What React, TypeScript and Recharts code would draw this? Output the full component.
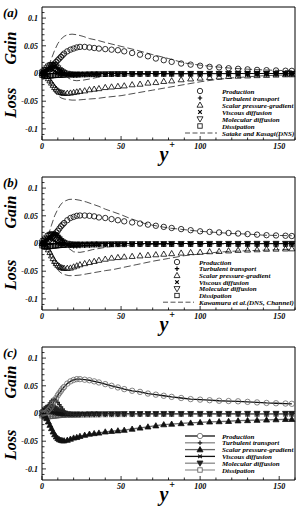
import React from 'react'
import { LineChart, Line, XAxis, YAxis, ReferenceLine, Legend } from 'recharts'

// wall-normal positions of the model's grid points (markers)
const yPlus = [0, 1, 2, 3, 4, 5, 6, 7, 8, 9, 10, 11, 12, 13, 14, 16, 18, 20, 22, 24, 27, 30, 33, 36, 40, 44, 48, 52, 57, 62, 67, 72, 77, 82, 88, 94, 100, 106, 112, 118, 124, 130, 136, 142, 148, 154, 158]

// (a)
const productionA = [0, 0.0002, 0.001, 0.003, 0.005, 0.008, 0.011, 0.014, 0.018, 0.021, 0.024, 0.027, 0.03, 0.033, 0.036, 0.04, 0.043, 0.045, 0.047, 0.048, 0.048, 0.047, 0.046, 0.045, 0.044, 0.043, 0.042, 0.04, 0.037, 0.034, 0.031, 0.027, 0.024, 0.021, 0.018, 0.016, 0.014, 0.012, 0.011, 0.0095, 0.0085, 0.0075, 0.0065, 0.006, 0.0055, 0.005, 0.0048]
const turbulentA = [0, 0.0005, 0.002, 0.004, 0.007, 0.009, 0.011, 0.012, 0.012, 0.011, 0.009, 0.007, 0.005, 0.003, 0.001, -0.002, -0.003, -0.0035, -0.0035, -0.003, -0.003, -0.0025, -0.0022, -0.002, -0.0018, -0.0016, -0.0015, -0.0014, -0.0013, -0.0012, -0.0011, -0.001, -0.001, -0.0009, -0.0008, -0.0008, -0.0007, -0.0007, -0.0006, -0.0006, -0.0005, -0.0005, -0.0005, -0.0004, -0.0004, -0.0004, -0.0004]
const pressureA = [0, -0.0005, -0.002, -0.005, -0.009, -0.013, -0.017, -0.021, -0.025, -0.028, -0.031, -0.033, -0.034, -0.035, -0.0355, -0.0355, -0.035, -0.034, -0.033, -0.032, -0.031, -0.029, -0.028, -0.027, -0.025, -0.024, -0.023, -0.022, -0.02, -0.019, -0.017, -0.016, -0.014, -0.013, -0.011, -0.0095, -0.008, -0.007, -0.006, -0.005, -0.0045, -0.004, -0.0035, -0.003, -0.0025, -0.002, -0.002]
const viscousA = [0, 0.003, 0.006, 0.008, 0.009, 0.009, 0.008, 0.006, 0.004, 0.002, 0.001, 0, -0.001, -0.0015, -0.002, -0.002, -0.002, -0.0018, -0.0016, -0.0014, -0.0012, -0.001, -0.0009, -0.0008, -0.0007, -0.0006, -0.0006, -0.0005, -0.0005, -0.0004, -0.0004, -0.0004, -0.0003, -0.0003, -0.0003, -0.0003, -0.0002, -0.0002, -0.0002, -0.0002, -0.0002, -0.0001, -0.0001, -0.0001, -0.0001, -0.0001, -0.0001]
const molecularA = [0.002, 0.004, 0.007, 0.01, 0.013, 0.015, 0.016, 0.016, 0.015, 0.013, 0.01, 0.007, 0.005, 0.003, 0.0015, 0, -0.001, -0.0015, -0.0015, -0.0014, -0.0012, -0.001, -0.0009, -0.0008, -0.0007, -0.0006, -0.0005, -0.0005, -0.0004, -0.0004, -0.0003, -0.0003, -0.0003, -0.0002, -0.0002, -0.0002, -0.0002, -0.0001, -0.0001, -0.0001, -0.0001, -0.0001, 0, 0, 0, 0, 0]
const dissipationA = [-0.003, -0.004, -0.005, -0.005, -0.005, -0.0045, -0.004, -0.0038, -0.0036, -0.0034, -0.003, -0.0029, -0.0028, -0.0027, -0.0026, -0.0025, -0.0024, -0.0023, -0.0022, -0.0021, -0.002, -0.0019, -0.0018, -0.0017, -0.0016, -0.0015, -0.0014, -0.0013, -0.0012, -0.0011, -0.0011, -0.001, -0.001, -0.0009, -0.0009, -0.0008, -0.0008, -0.0008, -0.0007, -0.0007, -0.0007, -0.0006, -0.0006, -0.0006, -0.0006, -0.0005, -0.0005]
const dnsYPlusA = [0, 2, 4, 6, 8, 10, 12, 14, 16, 19, 22, 26, 30, 35, 40, 50, 60, 70, 80, 90, 100, 110, 120, 130, 140, 150, 158]
const dnsProductionA = [0, 0.002, 0.012, 0.027, 0.042, 0.054, 0.062, 0.067, 0.07, 0.071, 0.07, 0.067, 0.063, 0.06, 0.056, 0.049, 0.042, 0.034, 0.027, 0.019, 0.015, 0.012, 0.0095, 0.0078, 0.0065, 0.0055, 0.005]
const dnsPressureA = [0, -0.002, -0.01, -0.022, -0.033, -0.04, -0.044, -0.046, -0.047, -0.048, -0.048, -0.047, -0.046, -0.045, -0.043, -0.04, -0.035, -0.03, -0.025, -0.02, -0.015, -0.011, -0.008, -0.006, -0.004, -0.003, -0.0025]
const dnsTurbulentA = [0, 0.002, 0.008, 0.013, 0.015, 0.013, 0.006, -0.001, -0.007, -0.012, -0.013, -0.012, -0.01, -0.007, -0.005, -0.003, -0.002, -0.0015, -0.001, -0.0008, -0.0006, -0.0005, -0.0004, -0.0003, -0.0002, -0.0002, -0.0001]

// (b)
const productionB = [0, 0.0002, 0.001, 0.002, 0.004, 0.007, 0.01, 0.013, 0.016, 0.02, 0.023, 0.027, 0.031, 0.034, 0.037, 0.042, 0.046, 0.048, 0.05, 0.0505, 0.0505, 0.05, 0.049, 0.047, 0.046, 0.044, 0.042, 0.04, 0.038, 0.036, 0.034, 0.032, 0.03, 0.028, 0.026, 0.024, 0.022, 0.021, 0.02, 0.019, 0.018, 0.017, 0.016, 0.015, 0.0145, 0.014, 0.0135]
const turbulentB = [0, 0.0005, 0.002, 0.005, 0.008, 0.011, 0.014, 0.016, 0.017, 0.016, 0.014, 0.011, 0.008, 0.005, 0.002, -0.002, -0.004, -0.005, -0.005, -0.0045, -0.004, -0.0035, -0.003, -0.0028, -0.0025, -0.0023, -0.0021, -0.002, -0.0018, -0.0017, -0.0016, -0.0015, -0.0014, -0.0013, -0.0012, -0.0012, -0.0011, -0.0011, -0.001, -0.001, -0.001, -0.0009, -0.0009, -0.0009, -0.0008, -0.0008, -0.0008]
const pressureB = [0, -0.0005, -0.002, -0.006, -0.011, -0.016, -0.022, -0.027, -0.032, -0.036, -0.039, -0.041, -0.043, -0.044, -0.0445, -0.0445, -0.044, -0.042, -0.04, -0.038, -0.036, -0.034, -0.032, -0.03, -0.028, -0.026, -0.025, -0.024, -0.023, -0.022, -0.021, -0.02, -0.019, -0.018, -0.017, -0.016, -0.0155, -0.0145, -0.014, -0.013, -0.012, -0.0115, -0.011, -0.01, -0.0098, -0.0095, -0.0093]
const viscousB = [0, 0.003, 0.006, 0.009, 0.01, 0.01, 0.009, 0.007, 0.005, 0.003, 0.001, 0, -0.001, -0.002, -0.0025, -0.0025, -0.0024, -0.0022, -0.002, -0.0018, -0.0016, -0.0014, -0.0012, -0.0011, -0.001, -0.0009, -0.0008, -0.0008, -0.0007, -0.0007, -0.0006, -0.0006, -0.0005, -0.0005, -0.0005, -0.0004, -0.0004, -0.0004, -0.0004, -0.0003, -0.0003, -0.0003, -0.0003, -0.0003, -0.0002, -0.0002, -0.0002]
const molecularB = [0.002, 0.005, 0.008, 0.011, 0.014, 0.016, 0.017, 0.017, 0.016, 0.014, 0.011, 0.008, 0.005, 0.003, 0.0015, 0, -0.001, -0.0015, -0.0015, -0.0014, -0.0013, -0.0012, -0.001, -0.0009, -0.0008, -0.0007, -0.0006, -0.0006, -0.0005, -0.0005, -0.0004, -0.0004, -0.0004, -0.0003, -0.0003, -0.0003, -0.0003, -0.0002, -0.0002, -0.0002, -0.0002, -0.0002, -0.0001, -0.0001, -0.0001, -0.0001, -0.0001]
const dissipationB = [-0.004, -0.005, -0.006, -0.006, -0.0058, -0.0055, -0.005, -0.0047, -0.0044, -0.0041, -0.0038, -0.0036, -0.0034, -0.0032, -0.003, -0.0029, -0.0028, -0.0027, -0.0026, -0.0025, -0.0024, -0.0023, -0.0022, -0.0021, -0.002, -0.0019, -0.0018, -0.0018, -0.0017, -0.0016, -0.0016, -0.0015, -0.0015, -0.0014, -0.0014, -0.0013, -0.0013, -0.0013, -0.0012, -0.0012, -0.0012, -0.0011, -0.0011, -0.0011, -0.001, -0.001, -0.001]
const dnsYPlusB = [0, 2, 4, 6, 8, 10, 12, 14, 17, 20, 24, 28, 32, 36, 40, 45, 50, 55, 60, 65, 70, 80, 90, 100, 110, 120, 130, 140, 150, 158]
const dnsProductionB = [0, 0.003, 0.015, 0.033, 0.05, 0.062, 0.071, 0.076, 0.0795, 0.08, 0.078, 0.075, 0.071, 0.067, 0.062, 0.057, 0.052, 0.046, 0.041, 0.036, 0.033, 0.028, 0.025, 0.022, 0.02, 0.018, 0.017, 0.015, 0.0145, 0.014]
const dnsPressureB = [0, -0.003, -0.013, -0.028, -0.04, -0.048, -0.053, -0.056, -0.058, -0.058, -0.057, -0.055, -0.053, -0.051, -0.049, -0.047, -0.044, -0.041, -0.038, -0.035, -0.032, -0.027, -0.022, -0.019, -0.016, -0.014, -0.013, -0.012, -0.011, -0.0105]
const dnsTurbulentB = [0, 0.003, 0.011, 0.018, 0.021, 0.019, 0.011, 0.002, -0.009, -0.015, -0.016, -0.014, -0.011, -0.009, -0.007, -0.005, -0.004, -0.003, -0.0025, -0.002, -0.0018, -0.0015, -0.0012, -0.001, -0.0009, -0.0008, -0.0007, -0.0006, -0.0005, -0.0005]

// (c)
const productionC = [0, 0.0003, 0.001, 0.003, 0.006, 0.009, 0.013, 0.018, 0.023, 0.028, 0.033, 0.037, 0.041, 0.045, 0.048, 0.054, 0.058, 0.0605, 0.062, 0.062, 0.061, 0.06, 0.058, 0.056, 0.053, 0.05, 0.047, 0.044, 0.041, 0.039, 0.036, 0.034, 0.032, 0.03, 0.028, 0.026, 0.025, 0.024, 0.023, 0.0225, 0.022, 0.021, 0.02, 0.019, 0.0185, 0.018, 0.0175]
const turbulentC = [0, 0.001, 0.004, 0.009, 0.014, 0.019, 0.023, 0.025, 0.025, 0.023, 0.02, 0.016, 0.012, 0.008, 0.005, 0.001, -0.001, -0.002, -0.0025, -0.003, -0.003, -0.003, -0.0028, -0.0026, -0.0024, -0.0022, -0.002, -0.0019, -0.0018, -0.0017, -0.0016, -0.0015, -0.0014, -0.0013, -0.0012, -0.0012, -0.0011, -0.0011, -0.001, -0.001, -0.001, -0.0009, -0.0009, -0.0009, -0.0008, -0.0008, -0.0008]
const pressureC = [0, -0.001, -0.004, -0.009, -0.015, -0.021, -0.027, -0.033, -0.038, -0.042, -0.045, -0.047, -0.048, -0.049, -0.049, -0.048, -0.046, -0.044, -0.043, -0.041, -0.039, -0.037, -0.036, -0.035, -0.033, -0.032, -0.031, -0.03, -0.028, -0.026, -0.024, -0.022, -0.02, -0.019, -0.018, -0.017, -0.016, -0.015, -0.0145, -0.014, -0.013, -0.0125, -0.012, -0.0115, -0.011, -0.0105, -0.0105]
const viscousC = [0, 0.002, 0.004, 0.005, 0.005, 0.004, 0.003, 0.002, 0.001, 0, -0.0005, -0.001, -0.0015, -0.0018, -0.002, -0.002, -0.002, -0.0018, -0.0016, -0.0015, -0.0013, -0.0012, -0.001, -0.001, -0.0009, -0.0008, -0.0007, -0.0007, -0.0006, -0.0006, -0.0005, -0.0005, -0.0005, -0.0004, -0.0004, -0.0004, -0.0003, -0.0003, -0.0003, -0.0003, -0.0003, -0.0002, -0.0002, -0.0002, -0.0002, -0.0002, -0.0002]
const molecularC = [0.001, 0.003, 0.006, 0.009, 0.011, 0.012, 0.012, 0.011, 0.009, 0.007, 0.005, 0.003, 0.0015, 0.0005, 0, -0.0008, -0.0012, -0.0013, -0.0013, -0.0012, -0.0011, -0.001, -0.0009, -0.0008, -0.0007, -0.0006, -0.0006, -0.0005, -0.0005, -0.0004, -0.0004, -0.0004, -0.0003, -0.0003, -0.0003, -0.0003, -0.0002, -0.0002, -0.0002, -0.0002, -0.0002, -0.0001, -0.0001, -0.0001, -0.0001, -0.0001, -0.0001]
const dissipationC = [-0.004, -0.005, -0.006, -0.006, -0.0058, -0.0055, -0.005, -0.0047, -0.0044, -0.0041, -0.0038, -0.0036, -0.0034, -0.0032, -0.003, -0.0029, -0.0028, -0.0027, -0.0026, -0.0025, -0.0024, -0.0023, -0.0022, -0.0021, -0.002, -0.0019, -0.0018, -0.0018, -0.0017, -0.0016, -0.0016, -0.0015, -0.0015, -0.0014, -0.0014, -0.0013, -0.0013, -0.0013, -0.0012, -0.0012, -0.0012, -0.0011, -0.0011, -0.0011, -0.001, -0.001, -0.001]

// axes
const xTicks = [0, 10, 20, 30, 40, 50, 60, 70, 80, 90, 100, 110, 120, 130, 140, 150, 160]
const xLabels = [0, 50, 100, 150]
const yTicks = [-0.11, -0.1, -0.09, -0.08, -0.07, -0.06, -0.05, -0.04, -0.03, -0.02, -0.01, 0, 0.01, 0.02, 0.03, 0.04, 0.05, 0.06, 0.07, 0.08, 0.09, 0.1, 0.11]
const yLabels = [-0.1, -0.05, 0, 0.05, 0.1]

const termNames = ['Production', 'Turbulent transport', 'Scalar pressure-gradient', 'Viscous diffusion', 'Molecular diffusion', 'Dissipation']
const termKeys = ['prod', 'turb', 'press', 'visc', 'mol', 'diss']
const termGlyphs = ['circle', 'plus', 'tri', 'cross', 'tridown', 'square']

const serif = '"Liberation Serif", "Times New Roman", serif'

const build = (p: number[], t: number[], pr: number[], v: number[], m: number[], d: number[]) =>
  yPlus.map((y, i) => ({ y, prod: p[i], turb: t[i], press: pr[i], visc: v[i], mol: m[i], diss: d[i] }))

const rowsA = build(productionA, turbulentA, pressureA, viscousA, molecularA, dissipationA)
const rowsB = build(productionB, turbulentB, pressureB, viscousB, molecularB, dissipationB)
const rowsC = build(productionC, turbulentC, pressureC, viscousC, molecularC, dissipationC)

const dnsRows = (xs: number[], vs: number[]) => xs.map((y, i) => ({ y, v: vs[i] }))

function Glyph({ kind, x, y, stroke, fill }: any) {
  switch (kind) {
    case 'circle':
      return <circle cx={x} cy={y} r={2.7} stroke={stroke} strokeWidth={0.8} fill={fill} />
    case 'tri':
      return <polygon points={`${x},${y - 3} ${x - 3},${y + 2.2} ${x + 3},${y + 2.2}`} stroke={stroke} strokeWidth={0.8} fill={fill} />
    case 'tridown':
      return <polygon points={`${x},${y + 3} ${x - 3},${y - 2.2} ${x + 3},${y - 2.2}`} stroke={stroke} strokeWidth={0.8} fill={fill} />
    case 'square':
      return <rect x={x - 2.2} y={y - 2.2} width={4.4} height={4.4} stroke={stroke} strokeWidth={0.8} fill={fill} />
    case 'plus':
      return <path d={`M${x - 2.2} ${y}H${x + 2.2}M${x} ${y - 2.2}V${y + 2.2}`} stroke={stroke} strokeWidth={1.2} />
    default:
      return <path d={`M${x - 1.8} ${y - 1.8}L${x + 1.8} ${y + 1.8}M${x - 1.8} ${y + 1.8}L${x + 1.8} ${y - 1.8}`} stroke={stroke} strokeWidth={1.2} />
  }
}

const dotFor = (kind: string, stroke: string, fill: string) => (p: any) => {
  const k = `${kind}-${p.index}`
  if (p.cx == null || p.cy == null || isNaN(p.cx) || isNaN(p.cy)) return <g key={k} />
  return <Glyph key={k} kind={kind} x={p.cx} y={p.cy} stroke={stroke} fill={fill} />
}

function XTick(props: any) {
  const { x, y, payload } = props
  const major = xLabels.includes(payload.value)
  return (
    <g>
      <line x1={x} x2={x} y1={y} y2={y - (major ? 4 : 2.5)} stroke="#000" strokeWidth={0.8} />
      {major && (
        <text x={x} y={y + 9} textAnchor="middle" fontFamily={serif} fontStyle="italic" fontWeight="bold" fontSize={8} fill="#000">
          {payload.value}
        </text>
      )}
    </g>
  )
}

function YTick(props: any) {
  const { x, y, payload } = props
  const major = yLabels.some((l) => Math.abs(l - payload.value) < 1e-9)
  return (
    <g>
      <line x1={x} x2={x + (major ? 4 : 2.5)} y1={y} y2={y} stroke="#000" strokeWidth={0.8} />
      {major && (
        <text x={x - 4} y={y + 2.8} textAnchor="end" fontFamily={serif} fontStyle="italic" fontWeight="bold" fontSize={8} fill="#000">
          {String(Math.round(payload.value * 100) / 100)}
        </text>
      )}
    </g>
  )
}

// per-panel look of the six model terms
const markerStyle = termKeys.map(() => ({ line: 'none', stroke: '#000', fill: 'none' }))
const lineStyle = [
  { line: '#111', stroke: '#666', fill: 'none' },
  { line: '#888', stroke: '#222', fill: 'none' },
  { line: '#666', stroke: '#111', fill: '#111' },
  { line: '#111', stroke: '#111', fill: 'none' },
  { line: '#888', stroke: '#222', fill: '#222' },
  { line: '#999', stroke: '#555', fill: 'none' },
]

interface PanelProps {
  top: number
  tag: string
  rows: any[]
  dns?: { data: any[] }[]
  dnsName?: string
  styles: { line: string; stroke: string; fill: string }[]
  legendX: number
  legendTop: number
  legendStep: number
  dashFrom?: number
  gainY: number
  lossY: number
}

function Panel({ top, tag, rows, dns, dnsName, styles, legendX, legendTop, legendStep, dashFrom, gainY, lossY }: PanelProps) {
  const withLines = styles[0].line !== 'none'
  const legend = () => (
    <svg width={299} height={170} style={{ display: 'block' }}>
      {termNames.map((name, i) => {
        const ly = legendTop + i * legendStep
        return (
          <g key={name}>
            {withLines && <line x1={legendX - 15} x2={legendX + 15} y1={ly} y2={ly} stroke={styles[i].line} strokeWidth={1.3} />}
            <Glyph kind={termGlyphs[i]} x={legendX} y={ly} stroke={styles[i].stroke} fill={withLines ? (styles[i].fill === 'none' ? '#fff' : styles[i].fill) : 'none'} />
            <text x={legendX + 22} y={ly + 2.5} fontFamily={serif} fontStyle="italic" fontWeight="bold" fontSize={7} fill="#000">
              {name}
            </text>
          </g>
        )
      })}
      {dnsName && (
        <g>
          <line x1={dashFrom} x2={legendX + 17} y1={legendTop + 6 * legendStep} y2={legendTop + 6 * legendStep} stroke="#222" strokeWidth={0.8} strokeDasharray="5 2.5" />
          <text x={legendX + 22} y={legendTop + 6 * legendStep + 2.5} fontFamily={serif} fontStyle="italic" fontWeight="bold" fontSize={7} fill="#000">
            {dnsName}
          </text>
        </g>
      )}
    </svg>
  )

  return (
    <div style={{ position: 'absolute', left: 0, top, width: 299, height: 170 }}>
      <LineChart width={299} height={170} margin={{ top: 7, right: 4, bottom: 0, left: 0 }}>
        <XAxis
          type="number"
          dataKey="y"
          domain={[0, 160]}
          ticks={xTicks}
          interval={0}
          height={30}
          tickSize={0}
          tickMargin={0}
          tick={<XTick />}
          stroke="#000"
          allowDuplicatedCategory={false}
        />
        <YAxis
          type="number"
          domain={[-0.12, 0.12]}
          ticks={yTicks}
          interval={0}
          width={42}
          tickSize={0}
          tickMargin={0}
          tick={<YTick />}
          stroke="#000"
          allowDataOverflow
        />
        <ReferenceLine y={0.12} stroke="#000" strokeWidth={1} />
        <ReferenceLine x={160} stroke="#000" strokeWidth={1} />
        <ReferenceLine y={0} stroke="#000" strokeWidth={1} />
        {[5, 4, 3, 1, 2, 0].map((i) => (
          <Line
            key={termKeys[i]}
            data={rows}
            dataKey={termKeys[i]}
            stroke={styles[i].line}
            strokeWidth={withLines ? 1.3 : 0}
            dot={dotFor(termGlyphs[i], styles[i].stroke, styles[i].fill)}
            isAnimationActive={false}
            legendType="none"
          />
        ))}
        {(dns || []).map((d, i) => (
          <Line
            key={`dns-${i}`}
            data={d.data}
            dataKey="v"
            stroke="#222"
            strokeWidth={0.8}
            strokeDasharray="7 3"
            dot={false}
            isAnimationActive={false}
            legendType="none"
          />
        ))}
        <Legend
          layout="vertical"
          align="center"
          verticalAlign="middle"
          content={legend}
          wrapperStyle={{ left: 0, top: 0, width: 299, height: 170 }}
        />
      </LineChart>
      <svg width={299} height={170} style={{ position: 'absolute', left: 0, top: 0, pointerEvents: 'none' }}>
        <text x={3} y={17} fontFamily={serif} fontStyle="italic" fontWeight="bold" fontSize={13}>
          {tag}
        </text>
        <text x={10} y={gainY} transform={`rotate(-90 10 ${gainY})`} textAnchor="middle" dominantBaseline="central" fontFamily={serif} fontStyle="italic" fontWeight="bold" fontSize={16}>
          Gain
        </text>
        <text x={10} y={lossY} transform={`rotate(-90 10 ${lossY})`} textAnchor="middle" dominantBaseline="central" fontFamily={serif} fontStyle="italic" fontWeight="bold" fontSize={16}>
          Loss
        </text>
        <text x={164} y={161} textAnchor="middle" fontFamily={serif} fontStyle="italic" fontWeight="bold" fontSize={20}>
          y
        </text>
        <text x={172} y={148} textAnchor="middle" fontFamily={serif} fontWeight="bold" fontSize={10}>
          +
        </text>
      </svg>
    </div>
  )
}

export default function App() {
  return (
    <div style={{ position: 'absolute', left: 0, top: 0, width: 299, height: 507, overflow: 'hidden', background: '#fff' }}>
      <Panel
        top={0}
        tag="(a)"
        rows={rowsA}
        dns={[
          { data: dnsRows(dnsYPlusA, dnsProductionA) },
          { data: dnsRows(dnsYPlusA, dnsPressureA) },
          { data: dnsRows(dnsYPlusA, dnsTurbulentA) },
        ]}
        dnsName="Satake and Kasagi(DNS)"
        styles={markerStyle}
        legendX={200}
        legendTop={91}
        legendStep={7}
        dashFrom={185}
        gainY={48}
        lossY={103}
      />
      <Panel
        top={170}
        tag="(b)"
        rows={rowsB}
        dns={[
          { data: dnsRows(dnsYPlusB, dnsProductionB) },
          { data: dnsRows(dnsYPlusB, dnsPressureB) },
          { data: dnsRows(dnsYPlusB, dnsTurbulentB) },
        ]}
        dnsName="Kawamura et al.(DNS, Channel)"
        styles={markerStyle}
        legendX={177}
        legendTop={92}
        legendStep={6.7}
        dashFrom={163}
        gainY={42}
        lossY={105}
      />
      <Panel
        top={340}
        tag="(c)"
        rows={rowsC}
        styles={lineStyle}
        legendX={200}
        legendTop={96}
        legendStep={6.8}
        gainY={42}
        lossY={105}
      />
    </div>
  )
}
